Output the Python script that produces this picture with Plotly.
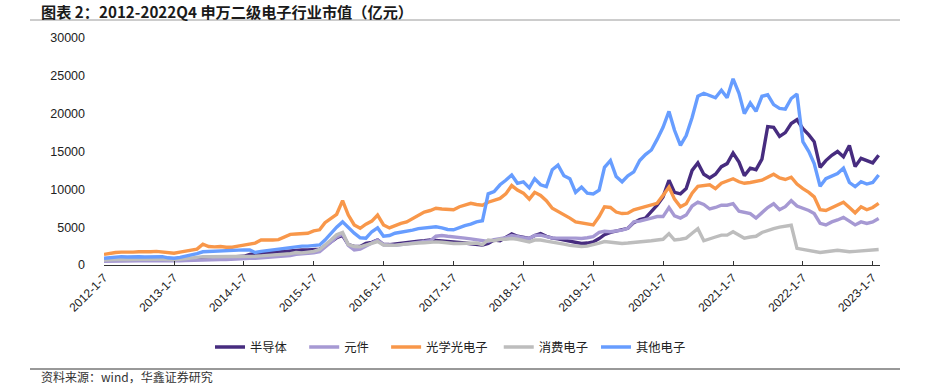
import plotly.graph_objects as go

# ---------------- data (monthly readings, 亿元) ----------------
months = [f"{2012 + m // 12}-{m % 12 + 1:02d}-07" for m in range(134)]

semiconductor = [  # 半导体
    600, 650, 700, 700, 680, 700, 700, 680, 700, 720, 700, 650,
    620, 680, 750, 800, 850, 950, 950, 950, 980, 1000, 1050, 1100,
    1150, 1400, 1500, 1550, 1600, 1700, 1750, 1800, 1850, 1950, 1980, 2000,
    2050, 2100, 2500, 3000, 3600, 3900, 2700, 2450, 2450, 2850, 3000, 3300,
    2700, 2700, 2800, 2900, 3000, 3100, 3150, 3200, 3300, 3250, 3200, 3150,
    3080, 3000, 2900, 2800, 2700, 2650, 2850, 3300, 3200, 3700, 4100, 3800,
    3600, 3500, 3900, 4150, 3800, 3550, 3450, 3300, 3100, 2950, 2850, 2900,
    3050, 3500, 4000, 4300, 4500, 4600, 4850, 5600, 6000, 6200, 7000, 7900,
    9000, 11200, 9600, 9400, 10100, 12500, 13500, 12000, 11500, 12000, 13000, 13400,
    14800, 13600, 11800, 12800, 12600, 14000, 18300, 18200, 17000, 17500, 18700, 19200,
    18000, 17200, 16300, 12900, 13800, 14500, 15000, 14300, 15800, 13000, 14100, 13800,
    13500, 14500,
]

components = [  # 元件
    500, 520, 550, 550, 530, 550, 560, 540, 560, 580, 560, 520,
    500, 540, 580, 620, 650, 700, 700, 700, 720, 730, 740, 760,
    780, 880, 900, 950, 1000, 1050, 1100, 1150, 1250, 1400, 1450, 1500,
    1600, 1750, 2300, 3000, 3700, 4100, 2600, 2000, 2100, 2500, 2900, 3300,
    2700, 2600, 2600, 2700, 2800, 2900, 3000, 3100, 3200, 3800, 3900, 3800,
    3750, 3650, 3550, 3450, 3350, 3300, 3100, 3350, 3500, 3600, 3900, 3700,
    3600, 3500, 3900, 3950, 3700, 3550, 3550, 3500, 3550, 3550, 3500, 3600,
    3750, 4300, 4450, 4400, 4500, 4600, 4850, 5700, 5800, 5950, 6200, 6400,
    6400, 7600, 6500, 6200, 6600, 7800, 8300, 8000, 7400, 7600, 7900, 7900,
    8100, 7100, 7000, 6800, 6200, 6900, 7600, 8100, 7300, 7700, 8500, 7800,
    7500, 7200, 6800, 5500, 5300, 5700, 5950, 6300, 5800, 5300, 5700, 5500,
    5700, 6150,
]

optoelectronics = [  # 光学光电子
    1400, 1550, 1650, 1700, 1650, 1700, 1750, 1700, 1750, 1800, 1750, 1700,
    1550, 1700, 1850, 1950, 2100, 2750, 2450, 2400, 2450, 2350, 2350, 2500,
    2650, 2800, 2900, 3300, 3250, 3300, 3350, 3700, 4050, 4100, 4200, 4200,
    4500, 4650, 5600, 6200, 6700, 8500, 6600, 5300, 4850, 5400, 5800, 6600,
    5300, 4900, 5200, 5500, 5700, 6100, 6500, 7000, 7200, 7500, 7400, 7300,
    7300, 7700, 7900, 8150, 8000, 7900, 8300, 8500, 8800, 9400, 10500, 9900,
    9500, 8700, 9600, 9200, 8500, 7500, 7100, 6700, 6200, 5700, 5600, 5500,
    5300, 6400, 7700, 7600, 7000, 6800, 6850, 7300, 7500, 7700, 7900, 8150,
    9200, 10300, 8700, 7700, 8100, 9500, 10400, 10500, 10600, 10100, 10800, 11100,
    11400, 11000, 10800, 10900, 11000, 11200, 11600, 12000, 11500, 11300, 11600, 10700,
    10100, 9600, 9000, 7300, 7200, 7600, 7900, 8300, 7600, 6900, 7700, 7300,
    7600, 8150,
]

consumer = [  # 消费电子
    650, 700, 750, 750, 720, 750, 750, 720, 750, 780, 760, 700,
    680, 750, 850, 950, 1050, 1100, 1100, 1100, 1080, 1050, 1050, 1080,
    1100, 1100, 1150, 1200, 1250, 1300, 1350, 1400, 1500, 1650, 1600, 1700,
    1800, 2050, 2600, 3300, 4000, 4300, 2700, 2450, 2400, 2600, 2800, 3100,
    2650, 2600, 2600, 2700, 2800, 2850, 2900, 2950, 3050, 3050, 3000, 2900,
    2850, 2850, 2850, 2900, 2900, 2700, 3300, 3200, 3400, 3400, 3500, 3400,
    3200, 3050, 3300, 3300, 3150, 3050, 2900, 2750, 2600, 2500, 2450, 2500,
    2650, 2900, 3100, 3000, 2850, 2850, 2900, 2950, 3000, 3100, 3200, 3300,
    3400, 4150, 3300, 3400, 3550, 4200, 4800, 3200, 3400, 3700, 3950, 3950,
    4400, 3900, 3550, 3700, 3800, 4300, 4600, 4800, 5000, 5100, 5250, 2200,
    2050, 1950, 1700, 1650, 1750, 1800, 1950, 1850, 1750, 1800, 1850, 1900,
    1950, 2050,
]

other = [  # 其他电子
    900, 1000, 1100, 1100, 1050, 1100, 1100, 1050, 1100, 1100, 1100, 950,
    900, 1000, 1150, 1300, 1500, 1750, 1800, 1850, 1900, 1950, 1980, 2000,
    2000, 1980, 1650, 1800, 1900, 2000, 2050, 2150, 2300, 2400, 2500, 2500,
    2550, 2650, 3300, 4200, 5000, 5700, 4900, 4200, 3600, 3550, 4400, 4900,
    3800, 3900, 4200, 4300, 4400, 4600, 4800, 4900, 5000, 5050, 4900, 4700,
    4650, 5000, 5200, 5400, 5700, 5850, 9400, 9700, 10600, 11200, 11900, 10800,
    11000, 10200, 11400, 10600, 10350, 12600, 13200, 11800, 11400, 9600, 10300, 9500,
    9400, 9900, 12900, 13800, 11700, 11000, 11800, 12300, 13800, 14600, 15200, 16600,
    18200, 20300, 17800, 15800, 17100, 19500, 22300, 22700, 22400, 22100, 23100, 22100,
    24600, 22700, 20000, 21400, 20300, 22300, 22500, 21200, 20700, 20600, 22000, 22600,
    16300, 15000, 13400, 10400, 11400, 11800, 12100, 12800, 10900, 10350, 11000, 10700,
    10900, 11900,
]

series_names = ["半导体", "元件", "光学光电子", "消费电子", "其他电子"]
series_values = [semiconductor, components, optoelectronics, consumer, other]
series_colors = ["#472C7F", "#A699D3", "#F8974A", "#BDBDBD", "#679DFF"]
legend_pads = ["\u2003", "\u2003", "\u2002", "\u2005", "\u2003"]

tick_dates = [f"{y}-01-07" for y in range(2012, 2024)]
tick_labels = [f"{y}-1-7" for y in range(2012, 2024)]
y_ticks = [0, 5000, 10000, 15000, 20000, 25000, 30000]

title_text = "图表 2：2012-2022Q4 申万二级电子行业市值（亿元）"
source_text = "资料来源：wind，华鑫证券研究"

# ---------------- figure ----------------
W, H = 929, 384
PL, PT, PR, PB = 104, 38, 880, 265          # plot area in page pixels
pw, ph = PR - PL, PB - PT
L, T = PL, PT
R, B = W - L - pw, H - T - ph


def px_x(p):
    return (p - PL) / pw


def px_y(p):
    return (PB - p) / ph


fig = go.Figure()
for name, pad, vals, col in zip(series_names, legend_pads, series_values, series_colors):
    fig.add_trace(go.Scatter(
        x=months, y=vals, name=name + pad, mode="lines",
        line=dict(color=col, width=3.4),
    ))

fig.update_layout(
    width=W, height=H,
    margin=dict(l=L, r=R, t=T, b=B, pad=0, autoexpand=False),
    paper_bgcolor="white", plot_bgcolor="white",
    font=dict(family="Liberation Sans, Arial, sans-serif", size=12, color="#222"),
    showlegend=True,
    legend=dict(
        orientation="h", xref="container", yref="container",
        x=210 / W, y=1 - 347 / H, xanchor="left", yanchor="middle",
        font=dict(family="Noto Sans CJK SC", size=12.3, color="#222"),
        itemwidth=30, tracegroupgap=0, bgcolor="rgba(0,0,0,0)",
    ),
    xaxis=dict(
        type="date", range=["2012-01-07", "2023-02-14"], automargin=False,
        tickvals=tick_dates, ticktext=tick_labels, tickangle=-45,
        showline=True, linecolor="#333", linewidth=1,
        ticks="inside", ticklen=4, tickcolor="#333",
        showgrid=False, zeroline=False,
        tickfont=dict(family="Liberation Sans, Arial", size=12, color="#222"),
    ),
    yaxis=dict(
        range=[0, 30000], tickvals=y_ticks, tickformat="d", automargin=False,
        showline=False, showgrid=False, zeroline=False, ticks="",
        ticklabelstandoff=18,
        tickfont=dict(family="Liberation Sans, Arial", size=12.5, color="#222"),
    ),
)

fig.add_annotation(
    text="<b>" + title_text + "</b>", xref="paper", yref="paper",
    x=px_x(39), y=px_y(10.5), xanchor="left", yanchor="middle", showarrow=False,
    font=dict(family="Noto Sans CJK SC", size=15.2, color="#1a1a1a"),
)
fig.add_annotation(
    text=source_text, xref="paper", yref="paper",
    x=px_x(39), y=px_y(376.5), xanchor="left", yanchor="middle", showarrow=False,
    font=dict(family="Noto Sans CJK SC", size=12, color="#333"),
)
for yy in (20, 369):
    fig.add_shape(type="line", xref="paper", yref="paper",
                  x0=px_x(30), x1=px_x(900), y0=px_y(yy), y1=px_y(yy),
                  line=dict(color="#9a9a9a" if yy == 20 else "#333", width=1))

# remove the browser's default 8px body margin so the figure sits at the page origin
fig.write_html("out.html", config={"displayModeBar": False},
               post_script="document.body.style.margin='0';")
